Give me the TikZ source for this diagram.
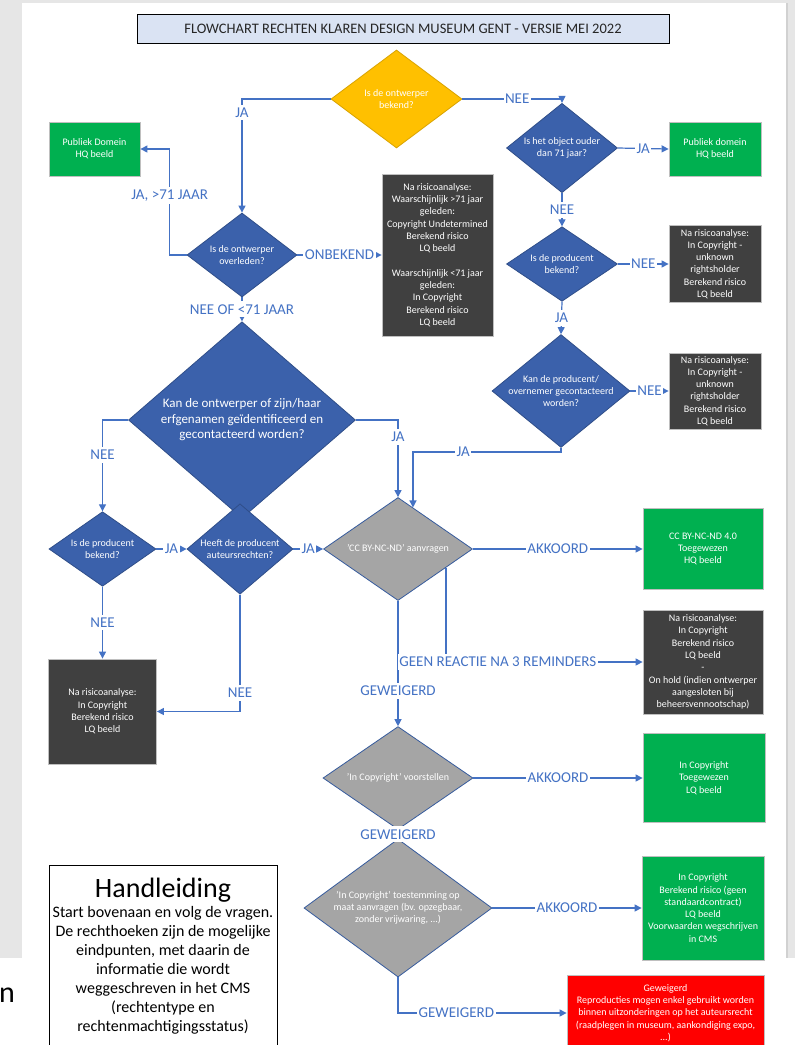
\documentclass[tikz,border=0pt]{standalone}
\usepackage{fontspec}
\setmainfont{Carlito}
\usepackage{tikz}
\usetikzlibrary{arrows.meta, shapes.geometric, calc}
\definecolor{cblue}{RGB}{59,97,171}
\definecolor{cline}{RGB}{68,114,196}
\definecolor{cgreen}{RGB}{0,176,80}
\definecolor{cdark}{RGB}{64,64,64}
\definecolor{cgray}{RGB}{165,165,165}
\definecolor{cyellow}{RGB}{255,192,0}
\definecolor{cred}{RGB}{255,0,0}
\definecolor{ctitle}{RGB}{218,227,243}
\definecolor{cpage}{RGB}{230,230,230}
\newcommand{\boxfont}{\fontsize{10}{12.3}\selectfont}
\tikzset{
  dia/.style={diamond, inner sep=-2pt, align=center, text=white, font=\boxfont, line width=0.8pt},
  kquestion/.style={dia, fill=cblue, draw=cblue!80!black},
  kstart/.style={dia, fill=cyellow, draw=cyellow!85!black},
  krequest/.style={dia, fill=cgray, draw=cline!80!black},
  box/.style={draw=black!25, line width=0.8pt, align=center, text=white, font=\boxfont, inner sep=2pt},
  kfree/.style={box, fill=cgreen}, krisk/.style={box, fill=cdark},
  krefused/.style={box, fill=cred},
  ktitle/.style={draw=black, line width=0.8pt, fill=ctitle, minimum width=532pt, minimum height=29pt, font=\fontsize{14.5}{17}\selectfont, text=black!85},
  kguide/.style={draw=black, line width=0.9pt, align=center, minimum width=228pt, minimum height=182pt, font=\fontsize{16}{19}\selectfont},
  flow/.style={-{Triangle[length=7pt, width=7pt]}, line width=1.2pt, draw=cline},
  tag/.style={fill=white, inner xsep=1.5pt, inner ysep=3pt, text=cline, font=\fontsize{15}{18}\selectfont},
}

\begin{document}
\begin{tikzpicture}[x=1pt, y=-1pt]
    \useasboundingbox (0,0) rectangle (795,1045);
    \fill[cpage] (0,0) rectangle (795,958);
    \fill[white] (21.5,3) rectangle (786,958);
    \draw[black!18, line width=1.5pt] (787,3) -- (787,958);
    \node[font=\fontsize{30}{34}\selectfont, anchor=base west, inner sep=0pt] (cut) at (-1,1002) {n};

    \node[ktitle] (title) at (403,28.5) {FLOWCHART RECHTEN KLAREN DESIGN MUSEUM GENT - VERSIE MEI 2022};

    \node[kstart, minimum width=131pt, minimum height=98pt] (designer) at (396.5,99) {Is de ontwerper\\bekend?};
    \node[kquestion, minimum width=110pt, minimum height=84pt] (deceased) at (242,255) {Is de ontwerper\\overleden?};
    \node[kquestion, minimum width=111pt, minimum height=73pt] (age) at (562,148) {Is het object ouder\\dan 71 jaar?};
    \node[kquestion, minimum width=111pt, minimum height=73pt] (producer) at (562,264) {Is de producent\\bekend?};
    \node[kquestion, minimum width=138pt, minimum height=97pt, inner sep=-6pt] (contact) at (561,391) {Kan de producent/\\overnemer gecontacteerd\\worden?};
    \node[kquestion, minimum width=227pt, minimum height=156pt, font=\fontsize{13}{15.5}\selectfont] (heirs) at (242,420) {Kan de ontwerper of zijn/haar\\erfgenamen geïdentificeerd en\\gecontacteerd worden?};
    \node[kquestion, minimum width=107pt, minimum height=72pt] (producer2) at (102.5,549) {Is de producent\\bekend?};
    \node[kquestion, minimum width=106pt, minimum height=84pt] (rights) at (240,549) {Heeft de producent\\auteursrechten?};
    \node[krequest, minimum width=149pt, minimum height=103pt] (askcc) at (398,549) {'CC BY-NC-ND' aanvragen};
    \node[krequest, minimum width=150pt, minimum height=74pt] (askic) at (398,778) {'In Copyright' voorstellen};
    \node[krequest, minimum width=188pt, minimum height=103pt, inner sep=-6pt] (askcustom) at (398,908) {'In Copyright' toestemming op\\maat aanvragen (bv. opzegbaar,\\zonder vrijwaring, ...)};

    \node[kfree, minimum width=91pt, minimum height=54pt] (pdleft) at (94.5,149) {Publiek Domein\\HQ beeld};
    \node[kfree, minimum width=92pt, minimum height=54pt] (pdright) at (715,149) {Publiek domein\\HQ beeld};
    \node[krisk, minimum width=111pt, minimum height=162pt] (riskage) at (437.5,255) {Na risicoanalyse:\\Waarschijnlijk >71 jaar\\geleden:\\Copyright Undetermined\\Berekend risico\\LQ beeld\\[12.3pt]Waarschijnlijk <71 jaar\\geleden:\\In Copyright\\Berekend risico\\LQ beeld};
    \node[krisk, minimum width=92pt, minimum height=77pt] (riskprod) at (715,264) {Na risicoanalyse:\\In Copyright -\\unknown\\rightsholder\\Berekend risico\\LQ beeld};
    \node[krisk, minimum width=92pt, minimum height=76pt] (riskcontact) at (715,391) {Na risicoanalyse:\\In Copyright -\\unknown\\rightsholder\\Berekend risico\\LQ beeld};
    \node[kfree, minimum width=120pt, minimum height=81pt] (ccok) at (703,549) {CC BY-NC-ND 4.0\\Toegewezen\\HQ beeld};
    \node[krisk, minimum width=120pt, minimum height=104pt] (onhold) at (703,662) {Na risicoanalyse:\\In Copyright\\Berekend risico\\LQ beeld\\-\\On hold (indien ontwerper\\aangesloten bij\\beheersvennootschap)};
    \node[krisk, minimum width=108pt, minimum height=105pt] (riskheirs) at (102.5,711.5) {Na risicoanalyse:\\In Copyright\\Berekend risico\\LQ beeld};
    \node[kfree, minimum width=122pt, minimum height=89pt] (icok) at (704,778) {In Copyright\\Toegewezen\\LQ beeld};
    \node[kfree, minimum width=122pt, minimum height=104pt] (customok) at (703,908) {In Copyright\\Berekend risico (geen\\standaardcontract)\\LQ beeld\\Voorwaarden wegschrijven\\in CMS};
    \node[krefused, minimum width=197pt, minimum height=76pt] (refused) at (665.5,1013) {Geweigerd\\Reproducties mogen enkel gebruikt worden\\binnen uitzonderingen op het auteursrecht\\(raadplegen in museum, aankondiging expo,\\...)};

    \node[kguide, anchor=north] (guide) at (163,865) {{\fontsize{28}{30}\selectfont Handleiding}\\[1pt]Start bovenaan en volg de vragen.\\De rechthoeken zijn de mogelijke\\eindpunten, met daarin de\\informatie die wordt\\weggeschreven in het CMS\\(rechtentype en\\rechtenmachtigingsstatus)};

    \coordinate (contactbend) at (561,452);
    \coordinate (ccentry) at ($(askcc.north)!0.2!(askcc.east)$);
    \coordinate (ccside) at ($(askcc.east)!0.36!(askcc.south)$);

    \draw[flow] (designer.west) -| (deceased.north) node[tag, pos=0.56] {JA};
    \draw[flow] (designer.east) -| (age.north) node[tag, pos=0.275] {NEE};
    \draw[flow] (age.east) -- (pdright.west) node[tag, midway] {JA};
    \draw[flow] (age.south) -- (producer.north) node[tag, midway] {NEE};
    \draw[flow] (producer.east) -- (riskprod.west) node[tag, midway] {NEE};
    \draw[flow] (producer.south) -- (contact.north) node[tag, midway] {JA};
    \draw[flow] (contact.east) -- (riskcontact.west) node[tag, midway] {NEE};
    \draw[flow] (contact.south) -- (contactbend) -| (ccentry) node[tag, pos=0.33] {JA};
    \draw[flow] (deceased.west) -- ++(-17,0) |- (pdleft.east) node[tag, pos=0.28] {JA, >71 JAAR};
    \draw[flow] (deceased.east) -- (riskage.west) node[tag, midway] {ONBEKEND};
    \draw[flow] (deceased.south) -- (heirs.north) node[tag, midway] {NEE OF <71 JAAR};
    \draw[flow] (heirs.east) -| (askcc.north) node[tag, pos=0.61] {JA};
    \draw[flow] (heirs.west) -| (producer2.north) node[tag, pos=0.69] {NEE};
    \draw[flow] (producer2.east) -- (rights.west) node[tag, midway] {JA};
    \draw[flow] (rights.east) -- (askcc.west) node[tag, midway] {JA};
    \draw[flow] (producer2.south) -- (riskheirs.north) node[tag, midway] {NEE};
    \draw[flow] (rights.south) |- (riskheirs.east) node[tag, pos=0.42] {NEE};
    \draw[flow] (askcc.east) -- (ccok.west) node[tag, midway] {AKKOORD};
    \draw[flow] (askcc.south) -- (askic.north) node[tag, pos=0.716] {GEWEIGERD};
    \draw[flow] (ccside) |- (onhold.west) node[tag, pos=0.632] {GEEN REACTIE NA 3 REMINDERS};
    \draw[flow] (askic.east) -- (icok.west) node[tag, midway] {AKKOORD};
    \draw[flow] (askic.south) -- (askcustom.north) node[tag, midway] {GEWEIGERD};
    \draw[flow] (askcustom.east) -- (customok.west) node[tag, midway] {AKKOORD};
    \draw[flow] (askcustom.south) |- (refused.west) node[tag, pos=0.673] {GEWEIGERD};
\end{tikzpicture}
\end{document}
